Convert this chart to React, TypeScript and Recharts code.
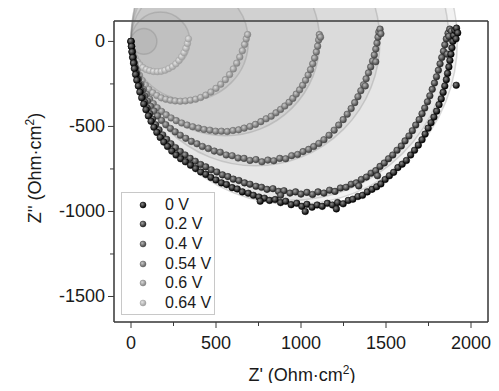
import React from "react"
import { ScatterChart, Scatter, XAxis, YAxis, CartesianGrid, Legend } from "recharts"

const W = 499
const H = 391
const FONT = "'Liberation Sans', Arial, sans-serif"

const SERIES_NAMES = ["0 V", "0.2 V", "0.4 V", "0.54 V", "0.6 V", "0.64 V"]
// sphere markers: dark rim and light highlight per series
const RIM = ["#000000", "#222222", "#444444", "#626262", "#848484", "#a0a0a0"]
const GLOW = ["#8a8a8a", "#a4a4a4", "#b8b8b8", "#cacaca", "#d9d9d9", "#e4e4e4"]

// Z' , Z'' pairs
const V0 = [
  [0, 0], [3, -30], [6, -62], [10, -95], [15, -128], [20, -160], [27, -195], [34, -228], [43, -262], [52, -298],
  [63, -332], [75, -368], [88, -402], [102, -438], [118, -470], [135, -505], [152, -535], [172, -565], [193, -592],
  [215, -618], [240, -645], [265, -668], [292, -690], [320, -708], [350, -728], [380, -748], [410, -768], [440, -782],
  [470, -800], [500, -815], [532, -832], [562, -842], [595, -860], [625, -868], [655, -885], [690, -893], [720, -905],
  [752, -915], [785, -922], [815, -935], [848, -930], [880, -948], [910, -940], [942, -960], [975, -952], [1005, -970],
  [1035, -958], [1065, -975], [1095, -962], [1125, -970], [1155, -952], [1185, -962], [1215, -948], [1248, -955],
  [1278, -935], [1305, -928], [1335, -912], [1362, -905], [1390, -885], [1418, -870], [1445, -855], [1470, -838],
  [1495, -812], [1520, -790], [1545, -770], [1570, -742], [1595, -722], [1620, -700], [1645, -668], [1668, -640],
  [1690, -610], [1712, -578], [1730, -545], [1748, -510], [1765, -478], [1782, -445], [1798, -410], [1812, -372],
  [1825, -338], [1836, -300], [1846, -262], [1855, -225], [1862, -188], [1870, -150], [1876, -112], [1882, -75],
  [1888, -38], [1893, 0], [1898, 35], [1905, 65], [1915, 78], [1922, 50], [1912, 15], [1913, -258], [1025, -1000],
  [1208, -985], [760, -940],
]
const V02 = [
  [0, 0], [4, -28], [8, -58], [12, -90], [17, -122], [23, -155], [30, -188], [38, -222], [47, -256], [57, -290],
  [68, -325], [81, -358], [95, -392], [110, -425], [127, -458], [145, -490], [165, -520], [187, -550], [210, -576],
  [235, -602], [262, -625], [290, -648], [318, -668], [348, -688], [378, -705], [410, -724], [440, -738], [472, -755],
  [505, -768], [538, -785], [570, -795], [602, -810], [635, -818], [668, -832], [700, -840], [735, -852], [768, -858],
  [800, -870], [835, -866], [868, -882], [900, -878], [935, -892], [968, -885], [1000, -898], [1035, -888], [1068, -900],
  [1100, -885], [1135, -892], [1168, -875], [1200, -882], [1232, -862], [1265, -858], [1295, -840], [1325, -832],
  [1355, -812], [1385, -798], [1412, -775], [1440, -760], [1465, -735], [1490, -715], [1515, -690], [1540, -668],
  [1565, -640], [1590, -615], [1612, -585], [1635, -556], [1655, -525], [1675, -492], [1695, -460], [1712, -425],
  [1728, -392], [1744, -355], [1758, -320], [1772, -282], [1785, -245], [1797, -208], [1808, -170], [1818, -132],
  [1828, -95], [1838, -58], [1846, -20], [1855, 15], [1865, 48], [1875, 72], [1885, 60], [1870, 30], [1860, -75],
  [1450, -790], [1340, -850], [880, -905],
]
const V04 = [
  [0, 0], [3, -30], [7, -62], [12, -95], [18, -128], [25, -160], [33, -192], [43, -225], [54, -258], [67, -290],
  [81, -322], [97, -352], [115, -382], [135, -410], [156, -438], [180, -465], [205, -490], [232, -512], [260, -532],
  [290, -552], [322, -570], [355, -588], [388, -602], [420, -618], [455, -630], [490, -645], [525, -652], [560, -668],
  [595, -672], [630, -686], [665, -688], [700, -700], [735, -695], [770, -708], [805, -698], [840, -702], [875, -688],
  [910, -690], [945, -672], [980, -665], [1012, -648], [1045, -635], [1075, -618], [1105, -600], [1135, -578],
  [1165, -552], [1195, -522], [1222, -492], [1248, -460], [1272, -428], [1295, -395], [1316, -360], [1335, -325],
  [1352, -290], [1368, -255], [1383, -220], [1397, -185], [1410, -150], [1421, -115], [1431, -80], [1440, -45],
  [1447, -10], [1453, 25], [1458, 55], [1465, 72], [1470, 45], [1440, -120], [1378, -262],
]
const V054 = [
  [0, 0], [3, -28], [7, -58], [12, -90], [18, -122], [26, -155], [35, -188], [46, -220], [59, -252], [74, -283],
  [91, -312], [110, -340], [131, -366], [154, -390], [180, -412], [207, -432], [236, -450], [266, -466], [298, -480],
  [330, -492], [363, -502], [397, -510], [430, -518], [464, -522], [498, -528], [532, -528], [566, -530], [600, -524],
  [633, -520], [666, -510], [700, -500], [732, -488], [764, -472], [795, -455], [825, -440], [853, -420], [880, -400],
  [905, -380], [930, -358], [952, -335], [972, -310], [992, -285], [1010, -258], [1027, -228], [1042, -198],
  [1056, -166], [1069, -132], [1080, -98], [1090, -62], [1098, -28], [1104, 8], [1108, 40], [1115, 25],
]
const V06 = [
  [0, 0], [3, -30], [8, -65], [15, -100], [24, -135], [36, -170], [50, -200], [66, -230], [85, -258], [105, -282],
  [128, -302], [152, -318], [178, -332], [205, -340], [232, -346], [260, -350], [290, -352], [320, -350], [350, -346],
  [380, -340], [410, -330], [440, -316], [470, -298], [500, -276], [528, -252], [555, -225], [580, -195], [602, -162],
  [622, -128], [640, -92], [655, -55], [668, -18], [678, 15], [686, 40],
]
const V064 = [
  [0, 0], [3, -25], [8, -50], [15, -75], [25, -98], [38, -120], [52, -138], [70, -154], [90, -165], [110, -172],
  [132, -177], [155, -178], [178, -176], [200, -170], [222, -160], [244, -148], [264, -132], [282, -112], [298, -90],
  [312, -66], [323, -40], [332, -12], [338, 15],
]
const SERIES_DATA = [V0, V02, V04, V054, V06, V064]

// translucent discs behind the arcs (radius in Z' units, centred on Z''=0)
const DISC_RADII = [960, 935, 732, 555, 345, 173, 76]

const X_DOMAIN = [-100, 2100]
const Y_DOMAIN = [-1650, 120]
const X_TICKS = [0, 250, 500, 750, 1000, 1250, 1500, 1750, 2000]
const X_MAJOR = [0, 500, 1000, 1500, 2000]
const Y_TICKS = [0, -250, -500, -750, -1000, -1250, -1500]
const Y_MAJOR = [0, -500, -1000, -1500]
const MINOR_STEP = 250

const LEFT_W = 114
const RIGHT_W = 11
const TOP_H = 21
const BOTTOM_H = 69
const PX_PER_UNIT = (W - LEFT_W - RIGHT_W) / (X_DOMAIN[1] - X_DOMAIN[0])

const isMajor = (v: number) => v % 500 === 0
const AXIS = "#3a3a3a"

const LeftTick = ({ x, y, payload }: any) => (
  <g>
    <line x1={x - (isMajor(payload.value) ? 6 : 4)} x2={x} y1={y} y2={y} stroke={AXIS} />
    {isMajor(payload.value) && (
      <text x={x - 9} y={y + 6} textAnchor="end" fontSize={18} fontFamily={FONT} fill="#1a1a1a">
        {payload.value}
      </text>
    )}
  </g>
)
const BottomTick = ({ x, y, payload }: any) => (
  <g>
    <line x1={x} x2={x} y1={y} y2={y + (isMajor(payload.value) ? 6 : 4)} stroke={AXIS} />
    {isMajor(payload.value) && (
      <text x={x} y={y + 27} textAnchor="middle" fontSize={18} fontFamily={FONT} fill="#1a1a1a">
        {payload.value}
      </text>
    )}
  </g>
)
// mirrored axes point inward; each major tick also draws the minor one after it
const RightTick = ({ x, y, payload }: any) => {
  const dy = MINOR_STEP * PX_PER_UNIT
  return (
    <g>
      <line x1={x - 5} x2={x} y1={y} y2={y} stroke={AXIS} />
      {payload.value > Y_MAJOR[Y_MAJOR.length - 1] && (
        <line x1={x - 3} x2={x} y1={y + dy} y2={y + dy} stroke={AXIS} />
      )}
    </g>
  )
}
const TopTick = ({ x, y, payload }: any) => {
  const dx = MINOR_STEP * PX_PER_UNIT
  return (
    <g>
      <line x1={x} x2={x} y1={y} y2={y + 5} stroke={AXIS} />
      {payload.value < X_MAJOR[X_MAJOR.length - 1] && (
        <line x1={x + dx} x2={x + dx} y1={y} y2={y + 3} stroke={AXIS} />
      )}
    </g>
  )
}

const Sphere = ({ cx, cy, i, r = 3.3 }: any) => (
  <circle cx={cx} cy={cy} r={r} fill={`url(#sph${i})`} stroke={RIM[i]} strokeWidth={0.5} />
)

const Disc = ({ cx, cy, payload }: any) => (
  <circle
    cx={cx}
    cy={cy}
    r={payload.r * PX_PER_UNIT}
    fill="#7f7f7f"
    fillOpacity={0.1}
    stroke="#6f6f6f"
    strokeOpacity={0.25}
    strokeWidth={1.5}
  />
)

const LegendBox = () => (
  <div
    style={{
      width: 94,
      height: 123,
      boxSizing: "border-box",
      border: "1px solid #c8c8c8",
      background: "#fff",
      paddingTop: 2,
      fontFamily: FONT,
      fontSize: 16,
      color: "#1a1a1a",
    }}
  >
    {SERIES_NAMES.map((name, i) => (
      <div key={name} style={{ height: 19.6, display: "flex", alignItems: "center" }}>
        <svg width={43} height={14} style={{ flex: "none" }}>
          <Sphere cx={21} cy={7} i={i} r={3} />
        </svg>
        <span>{name}</span>
      </div>
    ))}
  </div>
)

export default function App() {
  const discs = DISC_RADII.map((r) => ({ x: r, y: 0, r }))
  return (
    <div style={{ margin: -8, width: W, height: H, position: "relative", background: "#fff" }}>
      <svg width={0} height={0} style={{ position: "absolute" }}>
        <defs>
          {RIM.map((c, i) => (
            <radialGradient key={i} id={`sph${i}`} cx="38%" cy="36%" r="62%">
              <stop offset="0%" stopColor={GLOW[i]} />
              <stop offset="100%" stopColor={c} />
            </radialGradient>
          ))}
        </defs>
      </svg>
      <ScatterChart width={W} height={H} margin={{ top: 0, right: 0, bottom: 0, left: 0 }}>
        <CartesianGrid xAxisId="t" yAxisId="r" stroke="#dcdcdc" strokeWidth={1} />
        <XAxis
          xAxisId="b"
          type="number"
          dataKey="x"
          orientation="bottom"
          domain={X_DOMAIN}
          ticks={X_TICKS}
          interval={0}
          height={BOTTOM_H}
          tickSize={0}
          tickMargin={0}
          tickLine={false}
          tick={BottomTick}
          axisLine={{ stroke: AXIS, strokeWidth: 1.5 }}
          label={() => (
            <text x={302} y={381} textAnchor="middle" fontSize={18} fontFamily={FONT} fill="#1a1a1a">
              Z' (Ohm·cm<tspan dy={-7} fontSize={12}>2</tspan>
              <tspan dy={7}>)</tspan>
            </text>
          )}
        />
        <XAxis
          xAxisId="t"
          type="number"
          orientation="top"
          domain={X_DOMAIN}
          ticks={X_MAJOR}
          interval={0}
          height={TOP_H}
          tickSize={0}
          tickMargin={0}
          tickLine={false}
          tick={TopTick}
          axisLine={{ stroke: AXIS, strokeWidth: 1.5 }}
        />
        <YAxis
          yAxisId="l"
          type="number"
          dataKey="y"
          orientation="left"
          domain={Y_DOMAIN}
          ticks={Y_TICKS}
          interval={0}
          width={LEFT_W}
          tickSize={0}
          tickMargin={0}
          tickLine={false}
          tick={LeftTick}
          axisLine={{ stroke: AXIS, strokeWidth: 1.5 }}
          label={() => (
            <text
              transform="translate(41,168) rotate(-90)"
              textAnchor="middle"
              fontSize={18}
              fontFamily={FONT}
              fill="#1a1a1a"
            >
              Z'' (Ohm·cm<tspan dy={-7} fontSize={12}>2</tspan>
              <tspan dy={7}>)</tspan>
            </text>
          )}
        />
        <YAxis
          yAxisId="r"
          type="number"
          orientation="right"
          domain={Y_DOMAIN}
          ticks={Y_MAJOR}
          interval={0}
          width={RIGHT_W}
          tickSize={0}
          tickMargin={0}
          tickLine={false}
          tick={RightTick}
          axisLine={{ stroke: AXIS, strokeWidth: 1.5 }}
        />
        <Scatter
          xAxisId="b"
          yAxisId="l"
          data={discs}
          shape={Disc}
          isAnimationActive={false}
          legendType="none"
          zIndex={-150}
        />
        {SERIES_DATA.map((_, k) => {
          const i = SERIES_DATA.length - 1 - k
          return (
            <Scatter
              key={SERIES_NAMES[i]}
              name={SERIES_NAMES[i]}
              xAxisId="b"
              yAxisId="l"
              data={SERIES_DATA[i].map(([x, y]) => ({ x, y }))}
              shape={(p: any) => <Sphere cx={p.cx} cy={p.cy} i={i} />}
              isAnimationActive={false}
            />
          )
        })}
        <Legend
          layout="vertical"
          align="center"
          verticalAlign="middle"
          wrapperStyle={{ position: "absolute", left: 121, top: 192, width: 94, height: 123 }}
          content={() => <LegendBox />}
        />
      </ScatterChart>
    </div>
  )
}
